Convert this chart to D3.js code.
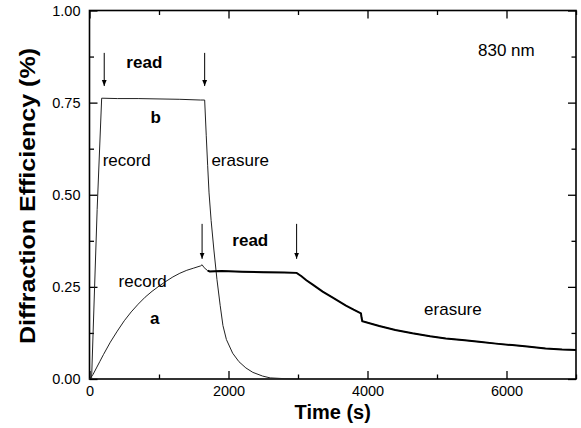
<!DOCTYPE html>
<html>
<head>
<meta charset="utf-8">
<script src="https://cdn.jsdelivr.net/npm/d3@7"></script>
<style>
  body { margin: 0; background: #fff; }
  svg text { font-family: "Liberation Sans", Arial, sans-serif; fill: #000; }
</style>
</head>
<body>
<svg id="chart" width="581" height="428"></svg>
<script>
// Curve a: record -> read -> erasure (time s, efficiency %)
const curveA = [
  [0, 0], [50, 0.012], [100, 0.03], [150, 0.048], [200, 0.066], [300, 0.1],
  [400, 0.13], [500, 0.158], [600, 0.182], [700, 0.203], [800, 0.222],
  [900, 0.238], [1000, 0.252], [1100, 0.265], [1200, 0.277], [1300, 0.287],
  [1400, 0.295], [1500, 0.301], [1600, 0.307], [1620, 0.31], [1650, 0.302],
  [1700, 0.294], [1730, 0.292], [1900, 0.293], [2200, 0.291], [2500, 0.29],
  [2800, 0.289], [2980, 0.288], [3050, 0.279], [3120, 0.268], [3212, 0.256],
  [3355, 0.237], [3500, 0.221], [3690, 0.199], [3800, 0.188], [3906, 0.178],
  [3915, 0.166], [3925, 0.157], [4169, 0.144], [4400, 0.133], [4647, 0.124],
  [4900, 0.116], [5126, 0.11], [5400, 0.105], [5604, 0.101], [5850, 0.096],
  [6082, 0.092], [6300, 0.088], [6561, 0.083], [6800, 0.08], [7000, 0.079]
];

// Curve b: record -> read -> erasure
const curveB = [
  [30, 0], [110, 0.46], [175, 0.762], [400, 0.761], [700, 0.761],
  [1000, 0.76], [1300, 0.759], [1600, 0.757], [1657, 0.757], [1680, 0.66],
  [1700, 0.58], [1720, 0.505], [1750, 0.43], [1790, 0.35], [1834, 0.27],
  [1880, 0.2], [1920, 0.145], [1970, 0.107], [2060, 0.07], [2150, 0.047],
  [2250, 0.03], [2350, 0.018], [2490, 0.008], [2600, 0.003], [2800, 0.001],
  [3000, 0]
];

// Arrows: time, from value, to value
const arrows = [
  [212, 0.885, 0.795],
  [1657, 0.885, 0.795],
  [1620, 0.421, 0.326],
  [2980, 0.421, 0.326]
];

// Labels: text, time, value, anchor, bold
const labels = [
  ['read', 789, 0.844, 'middle', true],
  ['b', 954, 0.695, 'middle', true],
  ['record', 189, 0.578, 'start', false],
  ['erasure', 1754, 0.578, 'start', false],
  ['830 nm', 5590, 0.877, 'start', false],
  ['record', 1112, 0.25, 'end', false],
  ['a', 940, 0.149, 'middle', true],
  ['read', 2055, 0.361, 'start', true],
  ['erasure', 4814, 0.174, 'start', false]
];

const xMajor = [0, 2000, 4000, 6000];
const xMinor = [1000, 3000, 5000, 7000];
const yMajor = [0, 0.25, 0.5, 0.75, 1.0];
const yMinor = [0.125, 0.375, 0.625, 0.875];

const margin = { top: 10.5, right: 5, bottom: 49, left: 89.5 };
const W = 581, H = 428;
const w = W - margin.left - margin.right;
const h = H - margin.top - margin.bottom;

const svg = d3.select('#chart');
const g = svg.append('g').attr('transform', 'translate(' + margin.left + ',' + margin.top + ')');

const x = d3.scaleLinear().domain([0, 7000]).range([0, w]);
const y = d3.scaleLinear().domain([0, 1]).range([h, 0]);

// inward ticks; padding only matters where labels are drawn
function tickAxis(axisFn, scale, values, size, fmt, pad) {
  return axisFn(scale).tickValues(values).tickSizeInner(size).tickSizeOuter(0)
    .tickPadding(pad || 0).tickFormat(fmt || '');
}

// bottom (labels) + top (mirror)
g.append('g').attr('transform', 'translate(0,' + h + ')')
  .call(tickAxis(d3.axisBottom, x, xMajor, -8, d3.format('d'), 7));
g.append('g').attr('transform', 'translate(0,' + h + ')')
  .call(tickAxis(d3.axisBottom, x, xMinor, -4.5));
g.append('g').call(tickAxis(d3.axisTop, x, xMajor, -8));
g.append('g').call(tickAxis(d3.axisTop, x, xMinor, -4.5));

// left (labels) + right (mirror)
g.append('g').call(tickAxis(d3.axisLeft, y, yMajor, -8, d3.format('.2f'), 9));
g.append('g').call(tickAxis(d3.axisLeft, y, yMinor, -4.5));
g.append('g').attr('transform', 'translate(' + w + ',0)')
  .call(tickAxis(d3.axisRight, y, yMajor, -8));
g.append('g').attr('transform', 'translate(' + w + ',0)')
  .call(tickAxis(d3.axisRight, y, yMinor, -4.5));

g.selectAll('.domain').remove();
g.selectAll('.tick line').attr('stroke', '#000').attr('stroke-width', 1.3);
g.selectAll('.tick text').attr('font-size', '14.5px').attr('fill', '#000');

// frame
g.append('rect').attr('width', w).attr('height', h)
  .attr('fill', 'none').attr('stroke', '#000').attr('stroke-width', 1.6);

// curves
const line = d3.line().x(d => x(d[0])).y(d => y(d[1]));
g.append('path').datum(curveB).attr('d', line)
  .attr('fill', 'none').attr('stroke', '#222').attr('stroke-width', 1);
g.append('path').datum(curveA).attr('d', line)
  .attr('fill', 'none').attr('stroke', '#222').attr('stroke-width', 1);
// noisier, thicker trace during read/erasure of a
g.append('path').datum(curveA.filter(d => d[0] >= 1700)).attr('d', line)
  .attr('fill', 'none').attr('stroke', '#000').attr('stroke-width', 2);

// arrows
svg.append('defs').append('marker')
  .attr('id', 'ah').attr('viewBox', '0 0 10 10').attr('refX', 10).attr('refY', 5)
  .attr('markerWidth', 6).attr('markerHeight', 6).attr('orient', 'auto')
  .attr('markerUnits', 'userSpaceOnUse')
  .append('path').attr('d', 'M0,1 L10,5 L0,9 Z').attr('fill', '#000');

g.selectAll('line.arrow').data(arrows).enter().append('line')
  .attr('class', 'arrow')
  .attr('x1', d => x(d[0])).attr('x2', d => x(d[0]))
  .attr('y1', d => y(d[1])).attr('y2', d => y(d[2]))
  .attr('stroke', '#000').attr('stroke-width', 1)
  .attr('marker-end', 'url(#ah)');

// annotations
g.selectAll('text.label').data(labels).enter().append('text')
  .attr('class', 'label')
  .attr('x', d => x(d[1])).attr('y', d => y(d[2]))
  .attr('text-anchor', d => d[3])
  .attr('font-weight', d => d[4] ? 'bold' : 'normal')
  .attr('font-size', '17px')
  .text(d => d[0]);

// axis titles
svg.append('text')
  .attr('x', margin.left + w / 2).attr('y', 419)
  .attr('text-anchor', 'middle').attr('font-weight', 'bold').attr('font-size', '20px')
  .text('Time (s)');
svg.append('text')
  .attr('transform', 'translate(35,' + 196 + ') rotate(-90)')
  .attr('text-anchor', 'middle').attr('font-weight', 'bold').attr('font-size', '22px')
  .attr('textLength', 296).attr('lengthAdjust', 'spacingAndGlyphs')
  .text('Diffraction Efficiency (%)');
</script>
</body>
</html>
